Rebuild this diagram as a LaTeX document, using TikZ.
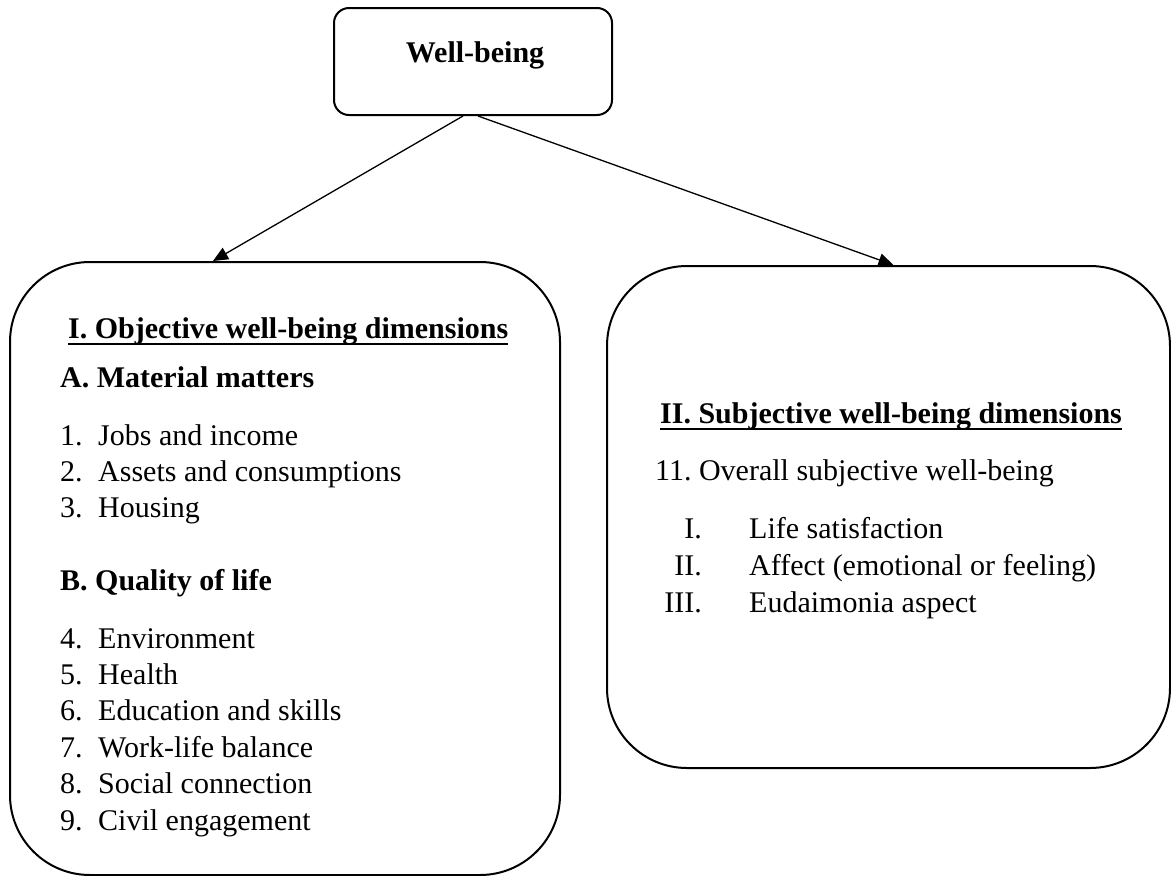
\documentclass[tikz,border=0pt]{standalone}
\usepackage{fontspec}
\setmainfont{Liberation Serif}
\usetikzlibrary{arrows.meta}
\frenchspacing
\begin{document}
\begin{tikzpicture}[x=1pt,y=-1pt,
  panel/.style={draw, line width=2pt, rounded corners=80pt, inner sep=0pt},
  txt/.style={anchor=base west, inner sep=0pt, font=\fontsize{30}{36}\selectfont},
  head/.style={txt, font=\fontsize{30}{36}\selectfont\bfseries},
  num/.style={txt, anchor=base east},
  uline/.style={line width=1.6pt},
  link/.style={line width=1.3pt, -{Triangle[length=15pt,width=13pt]}}]
\useasboundingbox (0,0) rectangle (1171,876);

% boxes
\node[panel, rounded corners=15pt, minimum width=278pt, minimum height=107pt] (root) at (473,61.5) {};
\node[panel, minimum width=550pt, minimum height=613pt] (obj) at (285,568.5) {};
\node[panel, minimum width=563pt, minimum height=502pt] (subj) at (888.5,517) {};

\node[head, anchor=base] (rootlabel) at (475,62) {Well-being};

% connectors
\draw[link] ([xshift=-10pt]root.south) -- ([xshift=-72pt]obj.north);
\draw[link] ([xshift=5pt]root.south) -- ([xshift=5pt]subj.north);

% objective dimensions
\node[head] (h1) at (68,338) {I. Objective well-being dimensions};
\draw[uline] ([yshift=-6pt]h1.base west) -- ([yshift=-6pt]h1.base east);
\node[head] (ga) at (60,387) {A. Material matters};
\node[txt] (n1) at (60,445) {1.};  \node[txt] (t1) at (98,445) {Jobs and income};
\node[txt] (n2) at (60,481) {2.};  \node[txt] (t2) at (98,481) {Assets and consumptions};
\node[txt] (n3) at (60,517) {3.};  \node[txt] (t3) at (98,517) {Housing};
\node[head] (gb) at (60,590) {B. Quality of life};
\node[txt] (n4) at (60,648) {4.};  \node[txt] (t4) at (98,648) {Environment};
\node[txt] (n5) at (60,684) {5.};  \node[txt] (t5) at (98,684) {Health};
\node[txt] (n6) at (60,720) {6.};  \node[txt] (t6) at (98,720) {Education and skills};
\node[txt] (n7) at (60,757) {7.};  \node[txt] (t7) at (98,757) {Work-life balance};
\node[txt] (n8) at (60,793) {8.};  \node[txt] (t8) at (98,793) {Social connection};
\node[txt] (n9) at (60,830) {9.};  \node[txt] (t9) at (98,830) {Civil engagement};

% subjective dimensions
\node[head] (h2) at (660,423) {II. Subjective well-being dimensions};
\draw[uline] ([yshift=-6pt]h2.base west) -- ([yshift=-6pt]h2.base east);
\node[txt] (s0) at (655,480) {11. Overall subjective well-being};
\node[num] (r1) at (702,538) {I.};   \node[txt] (s1) at (749,538) {Life satisfaction};
\node[num] (r2) at (702,575) {II.};  \node[txt] (s2) at (749,575) {Affect (emotional or feeling)};
\node[num] (r3) at (702,612) {III.}; \node[txt] (s3) at (749,612) {Eudaimonia aspect};
\end{tikzpicture}
\end{document}
